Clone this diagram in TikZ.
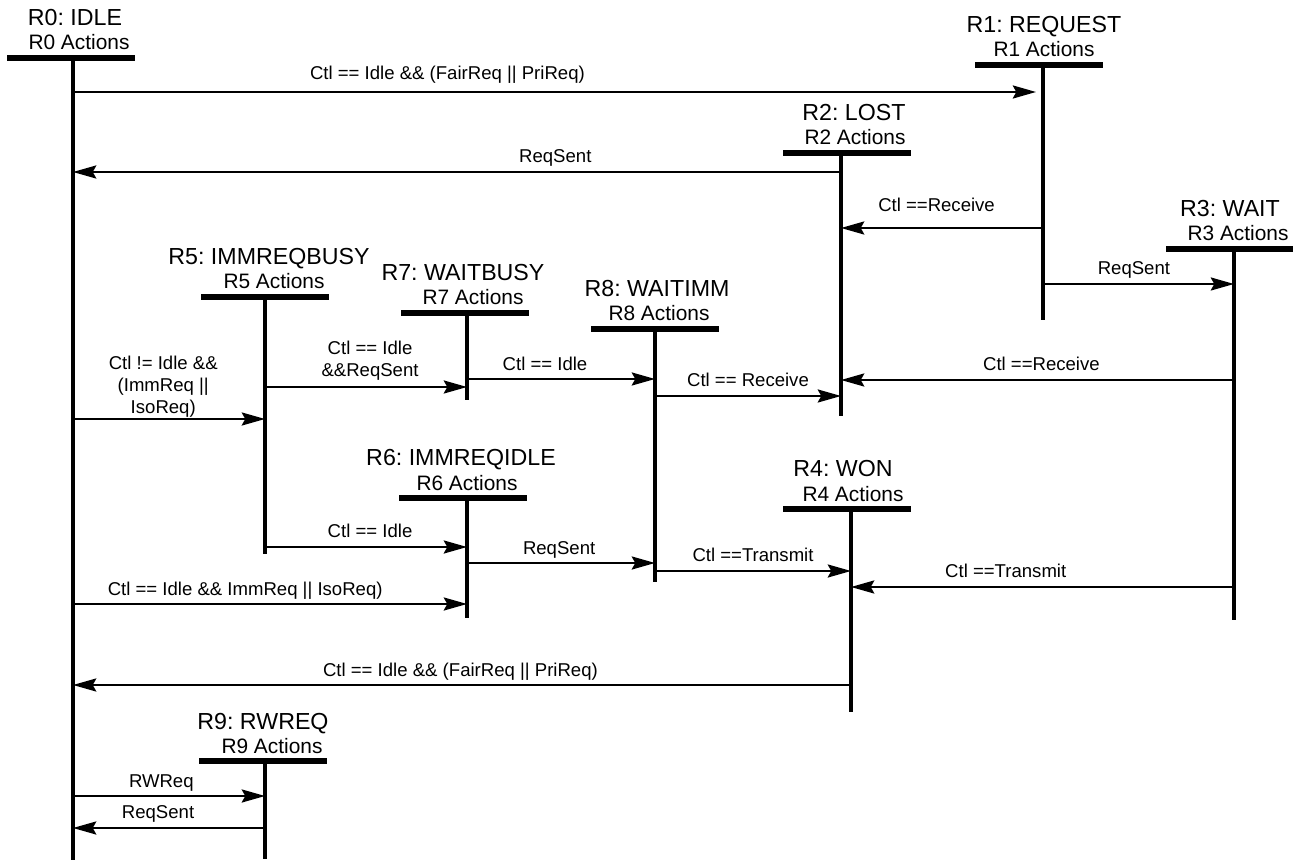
\documentclass[tikz,border=0pt]{standalone}
\usepackage{fontspec}
\setmainfont{Liberation Sans}
\usetikzlibrary{arrows.meta}
\frenchspacing

\begin{document}
\begin{tikzpicture}[x=0.431pt, y=-0.431pt,
    bar/.style={line width=2.2pt},
    life/.style={line width=1.4pt},
    msg/.style={line width=1.15pt, -{Stealth[length=10pt, width=5.6pt, inset=1.5pt]}},
    lbl/.style={font=\fontsize{8}{9.5}\selectfont, anchor=base, inner sep=0pt, align=center, yshift=#1},
    lbl/.default=4.3pt,
    ttl/.style={font=\fontsize{10}{12}\selectfont, anchor=base, inner sep=0pt},
    act/.style={font=\fontsize{9}{11}\selectfont, anchor=base, inner sep=0pt}]
  \useasboundingbox (0,0) rectangle (1293,863);

  % states: number / lifeline x / bar y / bottom / bar centre / title shift / actions shift / name
  \foreach \n/\x/\y/\b/\c/\tx/\ax/\s in {0/73/58/860/71/2/6/IDLE,
      1/1043/65/320/1039/1/1/REQUEST, 2/841/153/416/847/13/14/LOST,
      3/1234/249/620/1230/-4/4/WAIT, 4/851/509/712/847/-8/2/WON,
      5/265/297/554/265/4/9/IMMREQBUSY, 6/467/498/618/463/-6/0/IMMREQIDLE,
      7/467/313/400/465/-4/6/WAITBUSY, 8/655/329/582/655/2/4/WAITIMM,
      9/265/761/859/263/-2/7/RWREQ}
  {
    \coordinate (r\n) at (\x,\y);
    \draw[bar] (\c-64,\y) -- (\c+64,\y);
    \draw[life] (r\n) -- (r\n |- 0,\b);
    \node[act] (r\n-act) at (\x+\ax,\y-8) {R\n{} Actions};
    \node[ttl] (r\n-ttl) at (\x+\tx,\y-32) {R\n: \s};
  }

  % transitions
  \draw[msg, shorten >=3pt] (r0 |- 0,92) -- node[lbl=5.2pt, pos=.386] {Ctl == Idle \&\& (FairReq || PriReq)} (r1 |- 0,92);
  \draw[msg] (r2 |- 0,172) -- node[lbl, pos=.372] {ReqSent} (r0 |- 0,172);
  \draw[msg] (r1 |- 0,228) -- node[lbl=6.9pt, pos=.527] {Ctl ==Receive} (r2 |- 0,228);
  \draw[msg] (r1 |- 0,284) -- node[lbl=3.9pt, pos=.476] {ReqSent} (r3 |- 0,284);
  \draw[msg] (r3 |- 0,380) -- node[lbl, pos=.49] {Ctl ==Receive} (r2 |- 0,380);
  \draw[msg] (r8 |- 0,396) -- node[lbl=3.9pt, pos=.5] {Ctl == Receive} (r2 |- 0,396);
  \draw[msg] (r7 |- 0,379) -- node[lbl=3.5pt, pos=.415] {Ctl == Idle} (r8 |- 0,379);
  \draw[msg] (r5 |- 0,387) -- node[lbl=2.2pt, anchor=south, pos=.52] {Ctl == Idle\\\&\&ReqSent} (r7 |- 0,387);
  \draw[msg] (r0 |- 0,419) -- node[lbl=0pt, anchor=south, pos=.47] {Ctl != Idle \&\&\\(ImmReq ||\\IsoReq)} (r5 |- 0,419);
  \draw[msg] (r5 |- 0,547) -- node[lbl=3.9pt, pos=.52] {Ctl == Idle} (r6 |- 0,547);
  \draw[msg] (r6 |- 0,563) -- node[lbl=3.5pt, pos=.49] {ReqSent} (r8 |- 0,563);
  \draw[msg] (r8 |- 0,571) -- node[lbl=3.9pt, pos=.5] {Ctl ==Transmit} (r4 |- 0,571);
  \draw[msg] (r3 |- 0,587) -- node[lbl, pos=.596] {Ctl ==Transmit} (r4 |- 0,587);
  \draw[msg] (r0 |- 0,604) -- node[lbl=3.5pt, pos=.437] {Ctl == Idle \&\& ImmReq || IsoReq)} (r6 |- 0,604);
  \draw[msg] (r4 |- 0,685) -- node[lbl=3.5pt, pos=.502] {Ctl == Idle \&\& (FairReq || PriReq)} (r0 |- 0,685);
  \draw[msg] (r0 |- 0,796) -- node[lbl=3.5pt, pos=.46] {RWReq} (r9 |- 0,796);
  \draw[msg] (r9 |- 0,828) -- node[lbl=3.9pt, pos=.557] {ReqSent} (r0 |- 0,828);
\end{tikzpicture}
\end{document}
